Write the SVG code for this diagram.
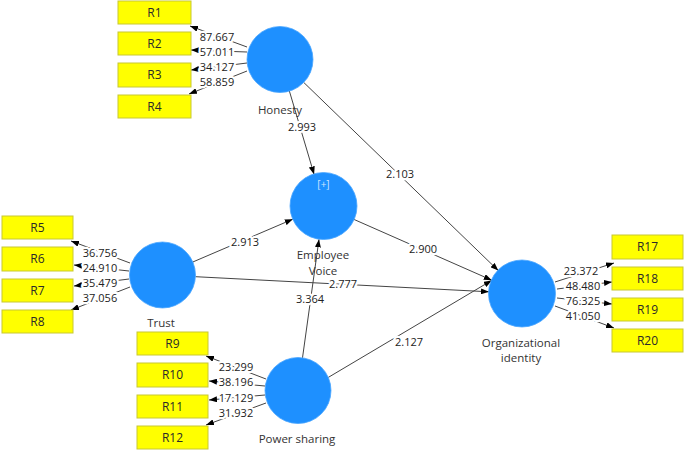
<svg xmlns="http://www.w3.org/2000/svg" width="685" height="451" viewBox="0 0 685 451">
<defs>
<marker id="ah" markerWidth="8" markerHeight="6" refX="8" refY="3" orient="auto" markerUnits="userSpaceOnUse">
<path d="M0,0 L8,3 L0,6 z" fill="#000"/>
</marker>
<style>
.lv{fill:#1E90FF;stroke:#4aa6ff;stroke-width:0.8}
.ind rect{fill:#FFFF00;stroke:#c8c832;stroke-width:1}
.ind text{font-family:"Open Sans","Liberation Sans",Arial,sans-serif;font-size:12px;fill:#2a2a2a;text-anchor:middle}
.nl{font-family:"Open Sans","Liberation Sans",Arial,sans-serif;font-size:11.5px;fill:#333;text-anchor:middle}
.e{stroke:#444;stroke-width:1;fill:none;marker-end:url(#ah)}
.w{font-family:"Open Sans","Liberation Sans",Arial,sans-serif;font-size:11px;fill:#222;text-anchor:middle;stroke:#fff;stroke-width:4.5;paint-order:stroke;stroke-linejoin:round}
</style>
</defs>
<rect width="685" height="451" fill="#fff"/>

<g id="connectors">
<line class="e" x1="289.4" y1="91.1" x2="314.1" y2="174.4"/>
<line class="e" x1="303.7" y1="82.4" x2="498.3" y2="270.6"/>
<line class="e" x1="192.8" y1="262" x2="292.8" y2="219.2"/>
<line class="e" x1="195.5" y1="276.7" x2="489" y2="291.8"/>
<line class="e" x1="302.5" y1="357.8" x2="319" y2="239.3"/>
<line class="e" x1="328.3" y1="377.4" x2="491.7" y2="280.4"/>
<line class="e" x1="353.7" y1="219.3" x2="491.8" y2="280.2"/>

<line class="e" x1="247" y1="47" x2="190" y2="26"/>
<line class="e" x1="247" y1="52" x2="191" y2="50"/>
<line class="e" x1="247" y1="63" x2="191" y2="70"/>
<line class="e" x1="247" y1="71" x2="189" y2="94"/>

<line class="e" x1="130" y1="263" x2="71" y2="241"/>
<line class="e" x1="129" y1="271" x2="74" y2="265"/>
<line class="e" x1="129" y1="279" x2="74" y2="286"/>
<line class="e" x1="130" y1="287" x2="71" y2="310"/>

<line class="e" x1="266" y1="379" x2="206" y2="356"/>
<line class="e" x1="265" y1="386" x2="209" y2="381"/>
<line class="e" x1="265" y1="395" x2="209" y2="400"/>
<line class="e" x1="266" y1="403" x2="206" y2="425"/>

<line class="e" x1="555" y1="282" x2="614" y2="263"/>
<line class="e" x1="557" y1="289" x2="612" y2="282"/>
<line class="e" x1="557" y1="298" x2="612" y2="304"/>
<line class="e" x1="555" y1="306" x2="614" y2="328"/>

<text class="w" x="302" y="131">2.993</text>
<text class="w" x="400" y="178">2.103</text>
<text class="w" x="245" y="246">2.913</text>
<text class="w" x="343" y="288">2.777</text>
<text class="w" x="310" y="303">3.364</text>
<text class="w" x="409" y="346">2.127</text>
<text class="w" x="423" y="253">2.900</text>

<text class="w" x="217" y="41">87.667</text>
<text class="w" x="217" y="56">57.011</text>
<text class="w" x="217" y="71">34.127</text>
<text class="w" x="217" y="86">58.859</text>

<text class="w" x="100" y="257">36.756</text>
<text class="w" x="100" y="272">24.910</text>
<text class="w" x="100" y="287">35.479</text>
<text class="w" x="100" y="302">37.056</text>

<text class="w" x="236" y="371">23.299</text>
<text class="w" x="236" y="386">38.196</text>
<text class="w" x="236" y="402">17.129</text>
<text class="w" x="236" y="417">31.932</text>

<text class="w" x="581" y="275">23.372</text>
<text class="w" x="583" y="290">48.480</text>
<text class="w" x="583" y="305">76.325</text>
<text class="w" x="583" y="320">41.050</text>
</g>

<g id="honesty"><circle class="lv" cx="280" cy="59.5" r="33"/><text class="nl" x="280" y="114">Honesty</text></g>
<g id="employee-voice"><circle class="lv" cx="323.5" cy="206" r="33.5"/><text x="323.5" y="188" font-family="Open Sans,Liberation Sans,Arial,sans-serif" font-size="10" fill="#cfe6ff" text-anchor="middle">[+]</text><text class="nl" x="323" y="259">Employee</text><text class="nl" x="323" y="275">Voice</text></g>
<g id="trust"><circle class="lv" cx="162.5" cy="275" r="33"/><text class="nl" x="161" y="327">Trust</text></g>
<g id="power-sharing"><circle class="lv" cx="298" cy="390.5" r="33"/><text class="nl" x="297" y="443">Power sharing</text></g>
<g id="organizational-identity"><circle class="lv" cx="522" cy="293.5" r="33.5"/><text class="nl" x="521" y="347">Organizational</text><text class="nl" x="521" y="362">identity</text></g>

<g id="R1" class="ind"><rect x="118" y="1" width="73" height="23"/><text x="154.5" y="17">R1</text></g>
<g id="R2" class="ind"><rect x="118" y="32" width="73" height="23"/><text x="154.5" y="48">R2</text></g>
<g id="R3" class="ind"><rect x="118" y="63" width="73" height="24"/><text x="154.5" y="79">R3</text></g>
<g id="R4" class="ind"><rect x="118" y="95" width="73" height="23"/><text x="154.5" y="111">R4</text></g>

<g id="R5" class="ind"><rect x="2" y="216" width="71" height="23"/><text x="37.5" y="232">R5</text></g>
<g id="R6" class="ind"><rect x="2" y="247" width="71" height="24"/><text x="37.5" y="263">R6</text></g>
<g id="R7" class="ind"><rect x="2" y="279" width="71" height="23"/><text x="37.5" y="295">R7</text></g>
<g id="R8" class="ind"><rect x="2" y="310" width="71" height="23"/><text x="37.5" y="326">R8</text></g>

<g id="R9" class="ind"><rect x="137" y="332" width="71" height="23"/><text x="172.5" y="348">R9</text></g>
<g id="R10" class="ind"><rect x="137" y="363" width="71" height="24"/><text x="172.5" y="379">R10</text></g>
<g id="R11" class="ind"><rect x="137" y="395" width="71" height="23"/><text x="172.5" y="411">R11</text></g>
<g id="R12" class="ind"><rect x="137" y="426" width="71" height="23"/><text x="172.5" y="442">R12</text></g>

<g id="R17" class="ind"><rect x="612" y="235" width="71" height="24"/><text x="647.5" y="251">R17</text></g>
<g id="R18" class="ind"><rect x="612" y="267" width="71" height="23"/><text x="647.5" y="283">R18</text></g>
<g id="R19" class="ind"><rect x="612" y="298" width="71" height="23"/><text x="647.5" y="314">R19</text></g>
<g id="R20" class="ind"><rect x="612" y="329" width="71" height="23"/><text x="647.5" y="345">R20</text></g>
</svg>
